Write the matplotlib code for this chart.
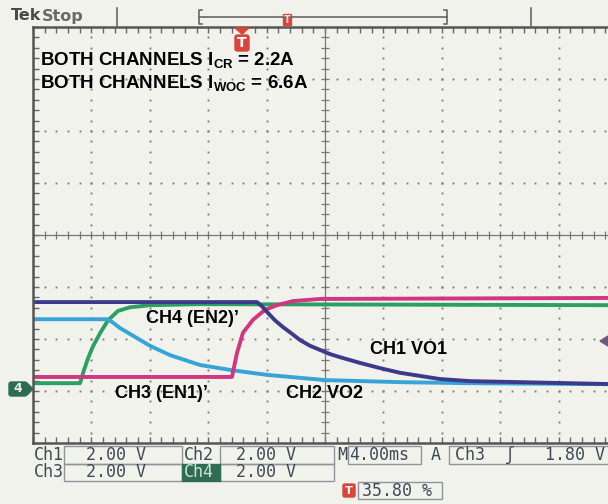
import numpy as np
import matplotlib
matplotlib.use("Agg")
import matplotlib.pyplot as plt
from matplotlib.patches import Rectangle, Polygon, FancyBboxPatch

plt.rcParams['font.family'] = ['Liberation Sans', 'DejaVu Sans']
plt.rcParams['mathtext.fontset'] = 'custom'
plt.rcParams['mathtext.rm'] = 'Liberation Sans:bold'
plt.rcParams['mathtext.it'] = 'Liberation Sans:bold'
plt.rcParams['mathtext.bf'] = 'Liberation Sans:bold'

W, H = 608, 504

# time axis in ms (4 ms/div, 0 = left edge of screen), level in screen divisions
ch1_t = [0.0, 15.34, 15.68, 16.03, 16.57, 17.12, 17.74, 18.29, 18.97, 19.66, 20.34, 21.03,
         22.40, 23.77, 25.14, 26.51, 27.88, 29.93, 33.36, 40.0]
ch1_y = [-1.29, -1.29, -1.37, -1.48, -1.64, -1.77, -1.90, -2.02, -2.13, -2.21, -2.29, -2.35,
         -2.46, -2.56, -2.65, -2.71, -2.77, -2.81, -2.83, -2.87]

ch2_t = [0.0, 5.14, 5.55, 5.96, 6.99, 8.01, 9.38, 11.44, 13.63, 16.03, 20.0, 25.14, 29.93, 40.0]
ch2_y = [-1.62, -1.62, -1.70, -1.79, -1.96, -2.13, -2.31, -2.50, -2.60, -2.69, -2.79, -2.83, -2.85, -2.87]

ch3_t = [0.0, 13.63, 13.97, 14.38, 15.07, 15.89, 16.71, 17.81, 19.66, 40.0]
ch3_y = [-2.73, -2.73, -2.27, -1.88, -1.63, -1.44, -1.35, -1.27, -1.23, -1.21]

ch4_t = [0.0, 3.22, 3.49, 3.77, 4.11, 4.59, 5.14, 5.82, 6.64, 8.01, 11.44, 40.0]
ch4_y = [-2.85, -2.85, -2.60, -2.37, -2.14, -1.89, -1.64, -1.46, -1.39, -1.35, -1.33, -1.35]

status_row1 = ['Ch1', '2.00 V', 'Ch2', '2.00 V', 'M', '4.00ms', 'A', 'Ch3  \u0283   1.80 V']
status_row2 = ['Ch3', '2.00 V', 'Ch4', '2.00 V']
trig_pos = '35.80 %'

BG = '#f2f2ec'
C_NAVY = '#3d3a8c'
C_CYAN = '#36a5d6'
C_GREEN = '#2aa062'
C_MAG = '#d2367f'
C_STAT = '#3f4a55'
C_BOX = '#8e949a'
C_TEKGREEN = '#2f6b55'
C_RED = '#d9453d'


def fx(x):
    return x / W


def fy(y):
    return 1 - y / H


fig = plt.figure(figsize=(W / 100, H / 100), dpi=100)
fig.patch.set_facecolor(BG)

# graticule: 10 x 8 divisions, right edge runs off the picture
ax = fig.add_axes([fx(33), fy(443), 584 / W, 416 / H])
ax.set_xlim(0, 40)
ax.set_ylim(-4, 4)
ax.set_facecolor(BG)
for s in ax.spines.values():
    s.set_color('#555555')
    s.set_linewidth(1.8)
ax.set_xticks([])
ax.set_yticks([])
ax.set_xticks(np.arange(0, 40.01, 0.8), minor=True)
ax.set_yticks(np.arange(-4, 4.01, 0.2), minor=True)
ax.tick_params(which='minor', direction='in', length=4, width=1, color='#666666',
               top=True, right=True, labelbottom=False, labelleft=False)

dot_kw = dict(ls='none', marker='s', ms=1.4, color='#7e7e7e', mew=0)
ys = np.arange(-4, 4.01, 0.2)
for k in [1, 2, 3, 4, 6, 7, 8, 9]:
    ax.plot(np.full_like(ys, 4 * k), ys, **dot_kw)
xs = np.arange(0, 40.01, 0.8)
for r in [-3, -2, -1, 1, 2, 3]:
    ax.plot(xs, np.full_like(xs, r), **dot_kw)

# centre cross with minor ticks
ax.axhline(0, color='#777777', lw=0.9)
ax.axvline(20, color='#777777', lw=0.9)
ax.plot(xs, np.zeros_like(xs), ls='none', marker='|', ms=6, color='#777777', mew=0.9)
ax.plot(np.full_like(ys, 20), ys, ls='none', marker='_', ms=6, color='#777777', mew=0.9)

# traces
ax.plot(ch4_t, ch4_y, color=C_GREEN, lw=2.8)
ax.plot(ch2_t, ch2_y, color=C_CYAN, lw=2.8)
ax.plot(ch3_t, ch3_y, color=C_MAG, lw=2.8)
ax.plot(ch1_t, ch1_y, color=C_NAVY, lw=2.8)

lab = dict(fontsize=13, fontweight='bold', color='black', va='center', ha='left')
ax.text(7.74, -1.60, 'CH4 (EN2)\u2019', **lab)
ax.text(5.62, -3.04, 'CH3 (EN1)\u2019', **lab)
ax.text(17.33, -3.04, 'CH2 VO2', **lab)
ax.text(23.08, -2.21, 'CH1 VO1', **lab)

top = dict(lab)
top['fontsize'] = 13.5
fig.text(fx(40), fy(60), r'BOTH CHANNELS I$_{\mathrm{CR}}$ = 2.2A', **top)
fig.text(fx(40), fy(83), r'BOTH CHANNELS I$_{\mathrm{WOC}}$ = 6.6A', **top)

# header: Tek Stop and record bar
fig.text(fx(11), fy(16), 'Tek', fontsize=11.5, fontweight='bold', color='#4a4a4a',
         family='DejaVu Sans', va='center')
fig.text(fx(42), fy(16), 'Stop', fontsize=11.5, fontweight='bold', color='#6a6a6a',
         family='DejaVu Sans', va='center')
hdr = dict(color='#666666', lw=1.2)
fig.add_artist(plt.Line2D([fx(117), fx(117)], [fy(8), fy(26)], **hdr))
fig.add_artist(plt.Line2D([fx(531), fx(531)], [fy(8), fy(26)], **hdr))
fig.add_artist(plt.Line2D([fx(199), fx(447)], [fy(17), fy(17)], **hdr))
fig.add_artist(plt.Line2D([fx(202), fx(199), fx(199), fx(202)],
                          [fy(10), fy(10), fy(24), fy(24)], **hdr))
fig.add_artist(plt.Line2D([fx(444), fx(447), fx(447), fx(444)],
                          [fy(10), fy(10), fy(24), fy(24)], **hdr))
fig.add_artist(Rectangle((fx(283), fy(25)), 8 / W, 11 / H, color=C_RED))
fig.text(fx(287), fy(20), 'T', fontsize=7, color='#f6d6d0', fontweight='bold',
         ha='center', va='center', family='DejaVu Sans')

# trigger position marker
fig.add_artist(Polygon([[fx(235), fy(28)], [fx(249), fy(28)], [fx(242), fy(34)]],
                       closed=True, color=C_RED))
fig.add_artist(FancyBboxPatch((fx(235), fy(51)), 14 / W, 16 / H,
                              boxstyle='round,pad=0,rounding_size=0.004', color=C_RED))
fig.text(fx(242), fy(43), 'T', fontsize=10, color='white', fontweight='bold',
         ha='center', va='center', family='DejaVu Sans')

# ch4 ground marker and trigger level marker
fig.add_artist(FancyBboxPatch((fx(9), fy(396)), 18 / W, 14 / H,
                              boxstyle='round,pad=0,rounding_size=0.004', color=C_TEKGREEN))
fig.add_artist(Polygon([[fx(27), fy(383)], [fx(33), fy(389)], [fx(27), fy(395)]],
                       closed=True, color=C_TEKGREEN))
fig.text(fx(18), fy(389), '4', fontsize=9, color='#e6f0ea', fontweight='bold',
         ha='center', va='center', family='DejaVu Sans')
fig.add_artist(Polygon([[fx(600), fy(341)], [fx(608), fy(336)], [fx(608), fy(346)]],
                       closed=True, color='#6b5a78'))

# status readout
st = dict(fontsize=12, color=C_STAT, va='center', ha='left', family='DejaVu Sans Mono')


def box(x0, x1, y0, y1, fc='none', ec=C_BOX):
    fig.add_artist(Rectangle((fx(x0), fy(y1)), (x1 - x0) / W, (y1 - y0) / H,
                             fc=fc, ec=ec, lw=1.0))


row_y = [455, 472]
box(64, 182, 446, 464)
box(220, 334, 446, 464)
box(348, 421, 446, 464)
box(449, 612, 446, 464)
fig.text(fx(34), fy(row_y[0]), status_row1[0], **st)
fig.text(fx(86), fy(row_y[0]), status_row1[1], **st)
fig.text(fx(184), fy(row_y[0]), status_row1[2], **st)
fig.text(fx(236), fy(row_y[0]), status_row1[3], **st)
fig.text(fx(337), fy(row_y[0]), status_row1[4], **st)
fig.text(fx(349), fy(row_y[0]), status_row1[5], **st)
fig.text(fx(431), fy(row_y[0]), status_row1[6], **st)
fig.text(fx(455), fy(row_y[0]), status_row1[7], **st)

box(64, 182, 464, 481)
box(220, 334, 464, 481)
fig.add_artist(Rectangle((fx(182), fy(481)), 38 / W, 17 / H, color=C_TEKGREEN))
fig.text(fx(34), fy(row_y[1]), status_row2[0], **st)
fig.text(fx(86), fy(row_y[1]), status_row2[1], **st)
st_inv = dict(st)
st_inv['color'] = '#cfe3d8'
fig.text(fx(184), fy(row_y[1]), status_row2[2], **st_inv)
fig.text(fx(236), fy(row_y[1]), status_row2[3], **st)

fig.add_artist(FancyBboxPatch((fx(343), fy(497)), 12 / W, 13 / H,
                              boxstyle='round,pad=0,rounding_size=0.003', color=C_RED))
fig.text(fx(349), fy(490.5), 'T', fontsize=8, color='white', fontweight='bold',
         ha='center', va='center', family='DejaVu Sans')
box(358, 442, 482, 499)
fig.text(fx(362), fy(490.5), trig_pos, **st)

fig.savefig('out.png', dpi=100, facecolor=BG)
